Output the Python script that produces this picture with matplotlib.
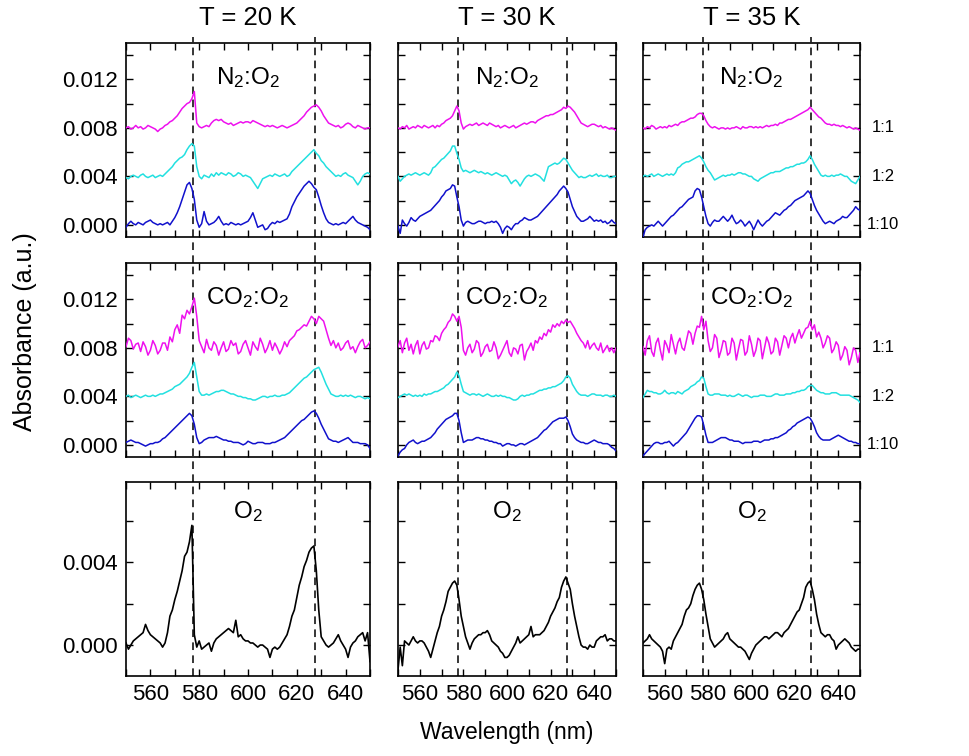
import numpy as np
import matplotlib
matplotlib.use("Agg")
from matplotlib import pyplot as plt
from matplotlib.ticker import MultipleLocator, NullFormatter
import matplotlib.transforms as mtransforms

plt.rcParams["font.family"] = ["Liberation Sans", "DejaVu Sans"]
plt.rcParams["mathtext.default"] = "regular"

# wavelength grid (nm)
wl = np.arange(550, 651)

# absorbance, in units of 1e-4 (offsets already included)
# --- N2:O2 ---
n2_20_11 = [80, 81, 79, 80, 82, 80, 81, 79, 80, 82,
            81, 80, 79, 77, 79, 80, 82, 83, 85, 86,
            88, 90, 93, 96, 98, 100, 101, 104, 110, 84,
            81, 80, 81, 82, 81, 84, 86, 87, 86, 87,
            85, 84, 83, 84, 82, 83, 84, 85, 84, 85,
            85, 84, 86, 85, 84, 83, 82, 81, 82, 81,
            82, 81, 80, 81, 82, 81, 80, 81, 82, 83,
            84, 86, 88, 90, 93, 95, 97, 98, 99, 97,
            94, 90, 87, 84, 83, 82, 81, 82, 80, 81,
            83, 84, 83, 81, 80, 82, 81, 80, 79, 80,
            80]
n2_20_12 = [39, 38, 40, 41, 40, 39, 41, 42, 40, 39,
            40, 41, 39, 40, 41, 40, 42, 44, 46, 48,
            51, 53, 55, 56, 58, 62, 65, 67, 65, 48,
            40, 38, 41, 40, 39, 42, 40, 43, 41, 43,
            42, 41, 43, 42, 40, 41, 43, 42, 40, 41,
            40, 39, 36, 33, 30, 34, 38, 39, 40, 41,
            40, 42, 41, 40, 41, 42, 40, 41, 44, 46,
            48, 50, 52, 54, 56, 58, 60, 62, 59, 57,
            53, 51, 48, 46, 44, 42, 40, 41, 40, 42,
            43, 41, 40, 39, 36, 33, 36, 40, 42, 43,
            42]
n2_20_110 = [-2, 1, 3, 1, 0, 2, 1, 0, 2, 3,
             4, 2, 1, 0, 1, 0, 1, 2, 0, 3,
             6, 10, 15, 21, 27, 33, 35, 30, 21, 4,
             -2, 1, 11, 3, 0, 1, 2, 4, 7, 3,
             0, 1, 0, 2, 1, 0, 1, 0, 1, 2,
             3, 6, 10, 4, -2, -1, 0, -4, -3, 0,
             2, 1, 3, 2, 3, 4, 5, 9, 15, 19,
             23, 26, 29, 32, 34, 36, 34, 31, 29, 23,
             16, 10, 5, 2, 1, 0, 1, 0, 1, 2,
             1, 3, 5, 7, 4, 2, 1, 0, -1, -2,
             -4]
n2_30_11 = [80, 79, 81, 80, 82, 79, 80, 81, 80, 82,
            81, 80, 82, 81, 80, 81, 82, 80, 82, 81,
            83, 84, 86, 87, 88, 90, 94, 98, 94, 84,
            79, 81, 82, 83, 82, 83, 84, 82, 83, 84,
            83, 82, 84, 83, 82, 81, 82, 80, 81, 82,
            81, 80, 81, 82, 80, 81, 82, 83, 84, 83,
            84, 85, 85, 84, 86, 87, 88, 89, 90, 90,
            91, 91, 92, 93, 94, 95, 97, 96, 98, 97,
            95, 93, 90, 87, 84, 83, 82, 81, 82, 83,
            83, 82, 81, 82, 80, 81, 80, 79, 80, 79,
            78]
n2_30_12 = [40, 36, 38, 40, 41, 42, 41, 42, 43, 42,
            41, 42, 43, 42, 41, 43, 47, 48, 50, 52,
            54, 55, 57, 59, 61, 65, 65, 59, 54, 47,
            44, 45, 44, 43, 44, 45, 44, 43, 44, 43,
            42, 43, 42, 41, 42, 43, 42, 41, 40, 41,
            40, 37, 34, 36, 37, 35, 32, 35, 38, 40,
            41, 40, 41, 42, 41, 40, 38, 36, 42, 48,
            49, 50, 51, 50, 51, 53, 55, 54, 51, 48,
            45, 43, 41, 39, 40, 39, 39, 40, 41, 40,
            41, 42, 40, 41, 40, 40, 41, 39, 39, 40,
            40]
n2_30_110 = [-1, -7, 4, 1, -1, 2, 6, 4, 3, 5,
             7, 8, 9, 10, 11, 12, 14, 16, 18, 20,
             23, 25, 28, 29, 30, 33, 32, 23, 15, 4,
             -1, 2, 3, 2, 1, 1, 2, 3, 3, 2,
             1, 2, 2, 3, 2, 3, 1, -2, -7, -3,
             -1, -2, -4, -1, 1, 1, 3, 4, 6, 5,
             4, 4, 5, 6, 7, 9, 11, 13, 15, 17,
             19, 21, 23, 25, 28, 30, 32, 30, 27, 21,
             15, 11, 7, 5, 3, 3, 4, 5, 7, 5,
             3, 4, 3, 4, 2, 3, 1, 2, 4, 2,
             1]
n2_35_11 = [80, 79, 81, 80, 82, 81, 79, 80, 81, 80,
            81, 80, 82, 81, 82, 83, 82, 84, 85, 85,
            86, 87, 88, 88, 89, 91, 92, 92, 90, 86,
            83, 81, 80, 81, 80, 79, 80, 80, 79, 80,
            79, 80, 80, 81, 80, 79, 81, 80, 80, 81,
            81, 80, 81, 80, 81, 80, 81, 82, 81, 82,
            82, 83, 82, 84, 84, 85, 86, 87, 87, 88,
            89, 90, 91, 92, 93, 94, 95, 97, 95, 93,
            91, 89, 88, 86, 84, 83, 83, 82, 83, 82,
            82, 81, 82, 81, 80, 81, 80, 79, 80, 79,
            78]
n2_35_12 = [40, 41, 40, 41, 42, 40, 41, 42, 41, 40,
            41, 42, 41, 42, 41, 43, 47, 48, 50, 51,
            52, 52, 53, 54, 55, 56, 57, 55, 52, 48,
            45, 43, 40, 37, 38, 39, 40, 41, 40, 41,
            41, 42, 41, 42, 43, 43, 42, 42, 41, 40,
            40, 38, 37, 36, 38, 39, 40, 41, 42, 43,
            43, 44, 44, 44, 45, 46, 47, 47, 48, 48,
            49, 50, 50, 51, 51, 52, 54, 57, 54, 50,
            47, 44, 41, 40, 41, 40, 40, 41, 40, 41,
            41, 42, 41, 40, 40, 38, 36, 35, 34, 37,
            40]
n2_35_110 = [-10, -4, -2, -1, 0, -1, 1, 3, 1, -1,
             1, 3, 5, 7, 8, 10, 12, 14, 15, 17,
             19, 21, 22, 23, 28, 30, 29, 23, 15, 7,
             1, -1, 2, 4, 3, 3, 5, 7, 5, 3,
             5, 8, 4, 1, 2, 4, 2, -1, 1, 3,
             0, -4, 0, 4, 1, -1, 1, 3, 4, 6,
             8, 10, 9, 8, 10, 12, 13, 15, 16, 18,
             20, 21, 22, 23, 24, 26, 28, 26, 21, 16,
             12, 9, 6, 3, 1, 2, 3, 2, 1, 3,
             4, 5, 7, 6, 6, 8, 10, 12, 15, 13,
             12]

# --- CO2:O2 ---
co2_20_11 = [81, 88, 86, 79, 83, 84, 77, 85, 81, 74,
             78, 86, 82, 75, 78, 84, 84, 78, 89, 85,
             95, 99, 92, 107, 104, 111, 108, 114, 121, 106,
             86, 81, 76, 87, 80, 78, 85, 82, 74, 80,
             85, 77, 79, 86, 82, 84, 75, 77, 83, 86,
             80, 74, 85, 81, 78, 88, 83, 76, 80, 86,
             78, 84, 80, 75, 79, 85, 81, 86, 88, 90,
             94, 95, 97, 99, 98, 102, 106, 104, 100, 106,
             104, 102, 95, 88, 82, 86, 80, 84, 78, 80,
             84, 86, 79, 81, 76, 81, 85, 87, 80, 82,
             85]
co2_20_12 = [40, 41, 39, 40, 41, 40, 39, 40, 41, 40,
             40, 41, 40, 41, 42, 42, 43, 44, 45, 46,
             48, 49, 50, 52, 54, 56, 59, 64, 68, 56,
             44, 41, 41, 42, 41, 42, 43, 44, 44, 45,
             45, 44, 43, 42, 42, 41, 40, 40, 39, 39,
             38, 38, 37, 37, 38, 39, 40, 40, 39, 40,
             40, 41, 40, 40, 41, 41, 42, 43, 45, 47,
             49, 51, 53, 55, 56, 58, 60, 62, 63, 64,
             60, 55, 50, 46, 42, 41, 40, 40, 41, 40,
             41, 40, 41, 40, 39, 40, 40, 39, 38, 39,
             38]
co2_20_110 = [2, 3, 4, 3, 2, 2, 1, 0, -1, 0,
              1, 1, 2, 2, 3, 5, 6, 8, 10, 12,
              14, 16, 18, 20, 22, 24, 26, 24, 17, 6,
              1, 2, 4, 5, 6, 6, 6, 7, 6, 5,
              4, 4, 3, 3, 2, 2, 2, 1, 0, 1,
              3, 2, 1, 1, 2, 2, 2, 1, 1, 1,
              2, 2, 3, 4, 5, 6, 8, 10, 12, 14,
              16, 18, 20, 21, 23, 25, 27, 28, 26, 22,
              17, 13, 9, 5, 4, 3, 3, 2, 3, 4,
              5, 6, 4, 2, 2, 2, 1, 1, 1, 0,
              -3]
co2_30_11 = [81, 86, 76, 84, 88, 78, 83, 75, 82, 86,
             75, 82, 85, 79, 80, 86, 85, 90, 89, 86,
             92, 95, 97, 101, 103, 108, 106, 102, 106, 97,
             78, 74, 80, 83, 76, 79, 86, 84, 73, 76,
             81, 83, 77, 78, 85, 80, 71, 74, 78, 82,
             86, 76, 73, 80, 79, 75, 82, 83, 70, 77,
             80, 84, 78, 86, 84, 89, 87, 92, 90, 95,
             93, 99, 97, 100, 98, 102, 100, 103, 101, 102,
             99, 96, 92, 89, 86, 84, 80, 86, 79, 82,
             84, 80, 78, 84, 76, 79, 82, 77, 80, 76,
             80]
co2_30_12 = [39, 40, 41, 42, 41, 42, 41, 40, 41, 40,
             41, 40, 42, 41, 42, 42, 43, 44, 44, 45,
             46, 47, 49, 50, 52, 54, 56, 60, 57, 50,
             44, 43, 42, 41, 42, 42, 41, 42, 41, 40,
             41, 42, 41, 40, 40, 41, 40, 41, 40, 40,
             39, 39, 38, 37, 37, 38, 40, 41, 40, 41,
             41, 42, 42, 43, 44, 45, 45, 46, 46, 47,
             47, 48, 48, 49, 50, 51, 53, 56, 57, 55,
             50, 47, 44, 42, 41, 41, 41, 40, 41, 42,
             42, 41, 41, 41, 40, 41, 41, 40, 40, 41,
             40]
co2_30_110 = [-9, -6, -4, -3, 0, 2, 3, 4, 2, 1,
              2, 3, 3, 4, 5, 6, 8, 10, 13, 15,
              17, 19, 21, 22, 23, 24, 26, 26, 20, 10,
              2, 3, 4, 4, 4, 5, 6, 6, 5, 5,
              4, 4, 3, 3, 2, 2, 1, 1, -1, 0,
              1, 1, 0, 0, -1, 0, 1, 1, 0, 1,
              2, 3, 4, 5, 6, 8, 10, 12, 13, 15,
              17, 19, 20, 21, 22, 22, 22, 23, 20, 15,
              9, 6, 4, 3, 2, 2, 1, 1, 2, 3,
              4, 3, 2, 2, 1, 1, 1, 0, -2, -3,
              -5]
co2_35_11 = [81, 74, 86, 90, 77, 73, 84, 88, 78, 70,
             86, 82, 76, 91, 83, 75, 84, 88, 80, 78,
             86, 94, 92, 83, 92, 98, 97, 106, 95, 102,
             86, 77, 80, 91, 88, 72, 78, 86, 85, 74,
             76, 88, 84, 70, 79, 87, 86, 74, 77, 90,
             83, 73, 78, 88, 86, 71, 80, 89, 84, 75,
             77, 88, 85, 74, 82, 90, 88, 80, 88, 92,
             84, 90, 95, 88, 92, 96, 97, 102, 95, 99,
             89, 93, 88, 80, 84, 90, 88, 76, 79, 85,
             82, 70, 74, 81, 78, 66, 72, 80, 78, 68,
             76]
co2_35_12 = [39, 42, 45, 44, 44, 43, 43, 42, 42, 43,
             45, 43, 42, 43, 43, 42, 44, 43, 42, 44,
             45, 46, 48, 49, 50, 52, 53, 56, 55, 48,
             42, 41, 41, 42, 42, 42, 41, 41, 41, 40,
             41, 40, 40, 41, 42, 41, 40, 41, 41, 40,
             39, 40, 40, 40, 41, 41, 41, 40, 40, 40,
             41, 42, 42, 41, 41, 41, 42, 42, 42, 43,
             43, 44, 44, 45, 45, 46, 48, 49, 49, 47,
             45, 44, 43, 43, 42, 42, 42, 43, 43, 43,
             42, 41, 41, 41, 41, 41, 40, 39, 38, 37,
             35]
co2_35_110 = [-9, -7, -5, -3, -1, 1, 2, 2, 1, 1,
              2, 2, 3, 1, -1, 1, 2, 4, 6, 8,
              10, 13, 16, 19, 22, 24, 24, 23, 16, 8,
              2, 2, 2, 3, 4, 5, 6, 6, 6, 5,
              4, 4, 3, 3, 3, 2, 1, 2, 2, 2,
              2, 3, 3, 3, 2, 3, 4, 4, 4, 5,
              5, 6, 6, 7, 8, 9, 10, 12, 13, 15,
              16, 18, 19, 20, 21, 22, 23, 22, 19, 15,
              10, 7, 5, 4, 4, 4, 4, 5, 6, 7,
              8, 7, 6, 5, 4, 3, 3, 2, 2, 1,
              1]

# --- pure O2 ---
o2_20 = [1, -2, 0, 2, 3, 4, 5, 6, 10, 7,
         5, 4, 3, 2, 1, -1, 1, 6, 14, 17,
         22, 26, 31, 36, 43, 45, 50, 58, 5, -1,
         2, -2, -1, 0, 1, -3, 1, 3, 4, 5,
         6, 7, 8, 7, 6, 12, 4, 5, 3, 2,
         2, 1, 1, 0, -1, 0, 0, -1, -2, -6,
         -2, -1, -2, -1, 1, 3, 5, 9, 14, 17,
         23, 29, 33, 38, 41, 45, 47, 48, 36, 17,
         4, 2, 0, -1, 0, 1, 3, 5, 2, 0,
         -2, -6, -1, 1, 2, 4, 5, 6, 2, 6,
         -8]
o2_30 = [-12, -1, -10, 2, 1, 0, 2, 4, 2, 1,
         2, 2, 1, -1, -3, -6, -2, 2, 6, 9,
         14, 17, 21, 26, 28, 30, 31, 29, 22, 14,
         9, 4, 1, -2, 1, 3, 4, 5, 5, 6,
         6, 7, 5, 2, 1, 0, -1, -3, -4, -6,
         -6, -5, -3, -1, 1, 4, 1, 2, 3, 4,
         5, 9, 4, 5, 5, 5, 6, 7, 9, 11,
         14, 16, 18, 21, 23, 28, 31, 33, 30, 27,
         20, 14, 9, 4, 0, -1, -1, -2, 0, -1,
         -1, 2, 3, 4, 4, 5, 2, 3, 3, 2,
         2]
o2_35 = [1, 2, 3, 5, 3, 2, 1, 0, -1, -3,
         -9, -2, -1, -2, 2, 4, 6, 8, 10, 14,
         17, 18, 20, 24, 27, 29, 30, 27, 22, 15,
         9, 3, 1, -1, 0, 1, 2, 3, 5, 6,
         3, 2, 1, 0, -1, -1, -2, -3, -5, -7,
         -4, -2, 0, 1, 2, 3, 4, 4, 3, 4,
         5, 6, 6, 5, 4, 6, 7, 8, 10, 12,
         14, 16, 17, 20, 23, 28, 30, 31, 27, 22,
         15, 10, 6, 5, 4, 5, 5, 3, 2, -2,
         0, 1, 2, 3, 2, 1, -1, -2, -3, -2,
         -2]

temps = ["T = 20 K", "T = 30 K", "T = 35 K"]
samples = ["N$_2$:O$_2$", "CO$_2$:O$_2$", "O$_2$"]
ratios = ["1:1", "1:2", "1:10"]
ratio_levels = [0.008, 0.004, 0.0]
peaks = [577.5, 627.5]

grid = [
    [[n2_20_11, n2_20_12, n2_20_110], [n2_30_11, n2_30_12, n2_30_110], [n2_35_11, n2_35_12, n2_35_110]],
    [[co2_20_11, co2_20_12, co2_20_110], [co2_30_11, co2_30_12, co2_30_110], [co2_35_11, co2_35_12, co2_35_110]],
    [[o2_20], [o2_30], [o2_35]],
]
mix_colors = ["#ee11ee", "#22e0e0", "#1111cc"]

W, H = 969, 756
col_px = [(126, 370), (398, 616), (643, 860)]
row_px = [(43, 237), (263, 457), (482, 676)]
ylims = [(-0.001, 0.015), (-0.001, 0.015), (-0.0015, 0.0079)]

fig = plt.figure(figsize=(W / 100, H / 100), dpi=100)

for r in range(3):
    for c in range(3):
        x0, x1 = col_px[c]
        y0, y1 = row_px[r]
        ax = fig.add_axes([x0 / W, 1 - y1 / H, (x1 - x0) / W, (y1 - y0) / H])
        curves = grid[r][c]
        for k, vals in enumerate(curves):
            col = "black" if r == 2 else mix_colors[k]
            ax.plot(wl, np.array(vals) * 1e-4, color=col, lw=1.2 if r == 2 else 1.1, zorder=3)
        ax.set_xlim(550, 650)
        ax.set_ylim(*ylims[r])
        # dashed guide lines running down through the row gaps
        lo = -(row_px[r + 1][0] - y1) / (y1 - y0) if r < 2 else 0
        hi = 1.03 if r == 0 else 1.0
        for p in peaks:
            ax.axvline(p, ymin=lo, ymax=hi, color="black", lw=1.1,
                       ls=(0, (5, 3.5)), clip_on=False, zorder=2)
        ax.xaxis.set_major_locator(MultipleLocator(20))
        ax.xaxis.set_minor_locator(MultipleLocator(10))
        ax.yaxis.set_major_locator(MultipleLocator(0.004))
        ax.yaxis.set_minor_locator(MultipleLocator(0.002))
        ax.tick_params(which="both", direction="in", top=True, right=True,
                       length=5, width=1.0, labelsize=16, pad=6)
        for s in ax.spines.values():
            s.set_linewidth(1.2)
        if c != 0:
            ax.yaxis.set_major_formatter(NullFormatter())
        else:
            ax.yaxis.set_major_formatter(plt.FuncFormatter(lambda v, pos: "%.3f" % v))
        if r != 2:
            ax.xaxis.set_major_formatter(NullFormatter())
        ax.text(0.5, 0.85 if r == 2 else 0.82, samples[r], transform=ax.transAxes,
                ha="center", va="center", fontsize=17.5)
        if c == 2 and r < 2:
            tr = mtransforms.blended_transform_factory(ax.transAxes, ax.transData)
            for lab, lev in zip(ratios, ratio_levels):
                ax.text(1.106, lev, lab, transform=tr, ha="center", va="center", fontsize=12)

for c in range(3):
    x0, x1 = col_px[c]
    fig.text((x0 + x1) / 2 / W, 1 - 18 / H, temps[c], ha="center", va="center", fontsize=18.5)

fig.text(25 / W, 1 - 332 / H, "Absorbance (a.u.)", rotation=90, ha="center", va="center", fontsize=18)
fig.text(507 / W, 1 - 733 / H, "Wavelength (nm)", ha="center", va="center", fontsize=16.5)

fig.savefig("out.png", dpi=100)
